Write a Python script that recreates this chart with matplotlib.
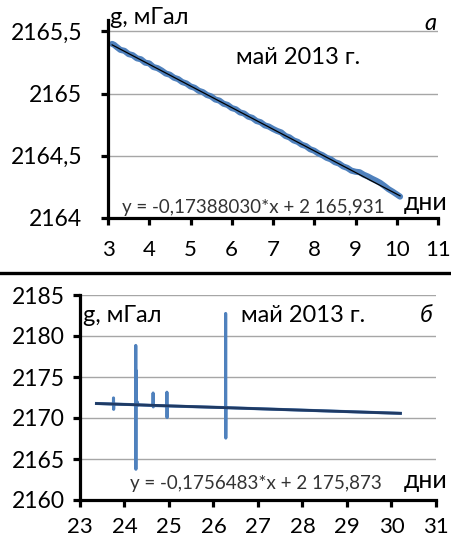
import matplotlib
matplotlib.use("Agg")
import matplotlib.pyplot as plt
from matplotlib.lines import Line2D
import numpy as np

plt.rcParams['font.family'] = ['Lato', 'DejaVu Sans']

# ---- panel (a): early May 2013 record ----
days_a = [3.10, 3.15, 3.20, 3.30, 3.40, 3.50, 3.60, 3.70, 3.80, 3.90, 4.00,
          4.10, 4.20, 4.30, 4.40, 4.50, 4.60, 4.70, 4.80, 4.90, 5.00,
          5.10, 5.20, 5.30, 5.40, 5.50, 5.60, 5.70, 5.80, 5.90, 6.00,
          6.10, 6.20, 6.30, 6.40, 6.50, 6.60, 6.70, 6.80, 6.90, 7.00,
          7.10, 7.20, 7.30, 7.40, 7.50, 7.60, 7.70, 7.80, 7.90, 8.00,
          8.10, 8.20, 8.30, 8.40, 8.50, 8.60, 8.70, 8.80, 8.90, 9.00,
          9.10, 9.20, 9.30, 9.40, 9.50, 9.60, 9.70, 9.80, 9.90, 10.00, 10.08]
g_a = [2165.400, 2165.392, 2165.378, 2165.352, 2165.344, 2165.318, 2165.309, 2165.284, 2165.276, 2165.249, 2165.243,
       2165.214, 2165.205, 2165.186, 2165.162, 2165.152, 2165.128, 2165.117, 2165.093, 2165.082, 2165.058,
       2165.047, 2165.023, 2165.012, 2164.989, 2164.978, 2164.953, 2164.944, 2164.919, 2164.909, 2164.884,
       2164.874, 2164.849, 2164.840, 2164.815, 2164.805, 2164.780, 2164.770, 2164.745, 2164.735, 2164.716,
       2164.700, 2164.688, 2164.660, 2164.648, 2164.624, 2164.612, 2164.589, 2164.578, 2164.553, 2164.541,
       2164.519, 2164.505, 2164.484, 2164.472, 2164.449, 2164.438, 2164.415, 2164.403, 2164.381, 2164.372,
       2164.368, 2164.348, 2164.334, 2164.316, 2164.300, 2164.282, 2164.258, 2164.232, 2164.212, 2164.190, 2164.172]
slope_a, icpt_a = -0.17388030, 2165.931
xlim_a = (3, 11)
ylim_a = (2164, 2165.592)
xticks_a = [3, 4, 5, 6, 7, 8, 9, 10, 11]
yticks_a = [2164, 2164.5, 2165, 2165.5]
ylabels_a = ['2164', '2164,5', '2165', '2165,5']
eq_a = 'y = -0,17388030*x + 2 165,931'

# ---- panel (б): late May 2013 record ----
days_b = [23.370, 23.750, 23.753, 23.756, 23.759, 24.250, 24.253, 24.256, 24.259, 24.262,
          24.290, 24.300, 24.320, 24.640, 24.643, 24.646, 24.649, 24.950, 24.953, 24.956,
          24.959, 26.270, 26.273, 26.276, 26.279, 30.200]
g_b = [2171.77, 2171.70, 2172.45, 2171.05, 2171.70, 2171.62, 2178.85, 2163.75, 2175.80, 2171.60,
       2171.95, 2171.55, 2171.60, 2171.52, 2173.05, 2171.35, 2171.52, 2171.47, 2173.15, 2170.05,
       2171.47, 2171.27, 2182.75, 2167.55, 2171.26, 2170.57]
slope_b, icpt_b = -0.1756483, 2175.873
xlim_b = (23, 31)
ylim_b = (2160, 2185)
xticks_b = [23, 24, 25, 26, 27, 28, 29, 30, 31]
yticks_b = [2160, 2165, 2170, 2175, 2180, 2185]
ylabels_b = ['2160', '2165', '2170', '2175', '2180', '2185']
eq_b = 'y = -0,1756483*x + 2 175,873'

W, H = 452, 538
DATA_BLUE = '#4f81bd'
GRID = '#a6a6a6'

fig = plt.figure(figsize=(W / 100, H / 100), dpi=100)


def fx(px):
    return px / W


def fy(py):
    return 1 - py / H


def style_axes(ax, xticks, yticks, ylabels, ypad, xpad, grid_xmax):
    for s in ('top', 'right'):
        ax.spines[s].set_visible(False)
    for s in ('left', 'bottom'):
        ax.spines[s].set_linewidth(2.3)
        ax.spines[s].set_color('black')
    ax.set_xticks(xticks)
    ax.set_xticklabels([str(t) for t in xticks])
    ax.set_yticks(yticks)
    ax.set_yticklabels(ylabels)
    ax.tick_params(axis='both', direction='out', length=5, width=2.3,
                   labelsize=16.5, colors='black')
    ax.tick_params(axis='y', pad=ypad)
    ax.tick_params(axis='x', pad=xpad, labelsize=16)
    for yv in yticks[1:]:
        ax.axhline(yv, xmin=0, xmax=grid_xmax, color=GRID, lw=1.0, zorder=0)


# panel (a)
ax1 = fig.add_axes([fx(108), fy(218), fx(438 - 108), (218 - 20) / H])
ax1.set_xlim(*xlim_a)
ax1.set_ylim(*ylim_a)
ax1.plot(days_a, g_a, color=DATA_BLUE, lw=4.4, solid_capstyle='round', zorder=2)
xa = np.array([days_a[0], days_a[-1]])
ax1.plot(xa, slope_a * xa + icpt_a, color='black', lw=0.9, zorder=3)
style_axes(ax1, xticks_a, yticks_a, ylabels_a, ypad=13.5, xpad=10.5, grid_xmax=1.0)

# panel (б)
ax2 = fig.add_axes([fx(80), fy(500), fx(436 - 80), (500 - 295) / H])
ax2.set_xlim(*xlim_b)
ax2.set_ylim(*ylim_b)
ax2.plot(days_b, g_b, color=DATA_BLUE, lw=2.2, zorder=2)
xb = np.array([days_b[0], days_b[-1]])
ax2.plot(xb, slope_b * xb + icpt_b, color='#1f3a64', lw=2.0, zorder=3)
style_axes(ax2, xticks_b, yticks_b, ylabels_b, ypad=6, xpad=7, grid_xmax=1.0)

# separator between the panels
fig.add_artist(Line2D([0, 1], [fy(273), fy(273)], color='black', lw=2.4,
                      transform=fig.transFigure))

# panel (a) annotations
fig.text(fx(110), fy(17), 'g, мГал', fontsize=17, ha='left', va='center')
fig.text(fx(298), fy(58), 'май 2013 г.', fontsize=17, ha='center', va='center')
fig.text(fx(437), fy(23), 'а', fontsize=17, style='italic', ha='right', va='center')
fig.text(fx(122), fy(208), eq_a, fontsize=13.5, ha='left', va='center', color='#333333')
fig.text(fx(404), fy(202), 'дни', fontsize=18, ha='left', va='center')

# panel (б) annotations
fig.text(fx(83), fy(316), 'g, мГал', fontsize=17, ha='left', va='center')
fig.text(fx(303), fy(316), 'май 2013 г.', fontsize=17, ha='center', va='center')
fig.text(fx(433), fy(316), 'б', fontsize=17, style='italic', ha='right', va='center')
fig.text(fx(130), fy(483), eq_b, fontsize=13.5, ha='left', va='center', color='#333333')
fig.text(fx(404), fy(481), 'дни', fontsize=18, ha='left', va='center')

fig.savefig('out.png', dpi=100)
